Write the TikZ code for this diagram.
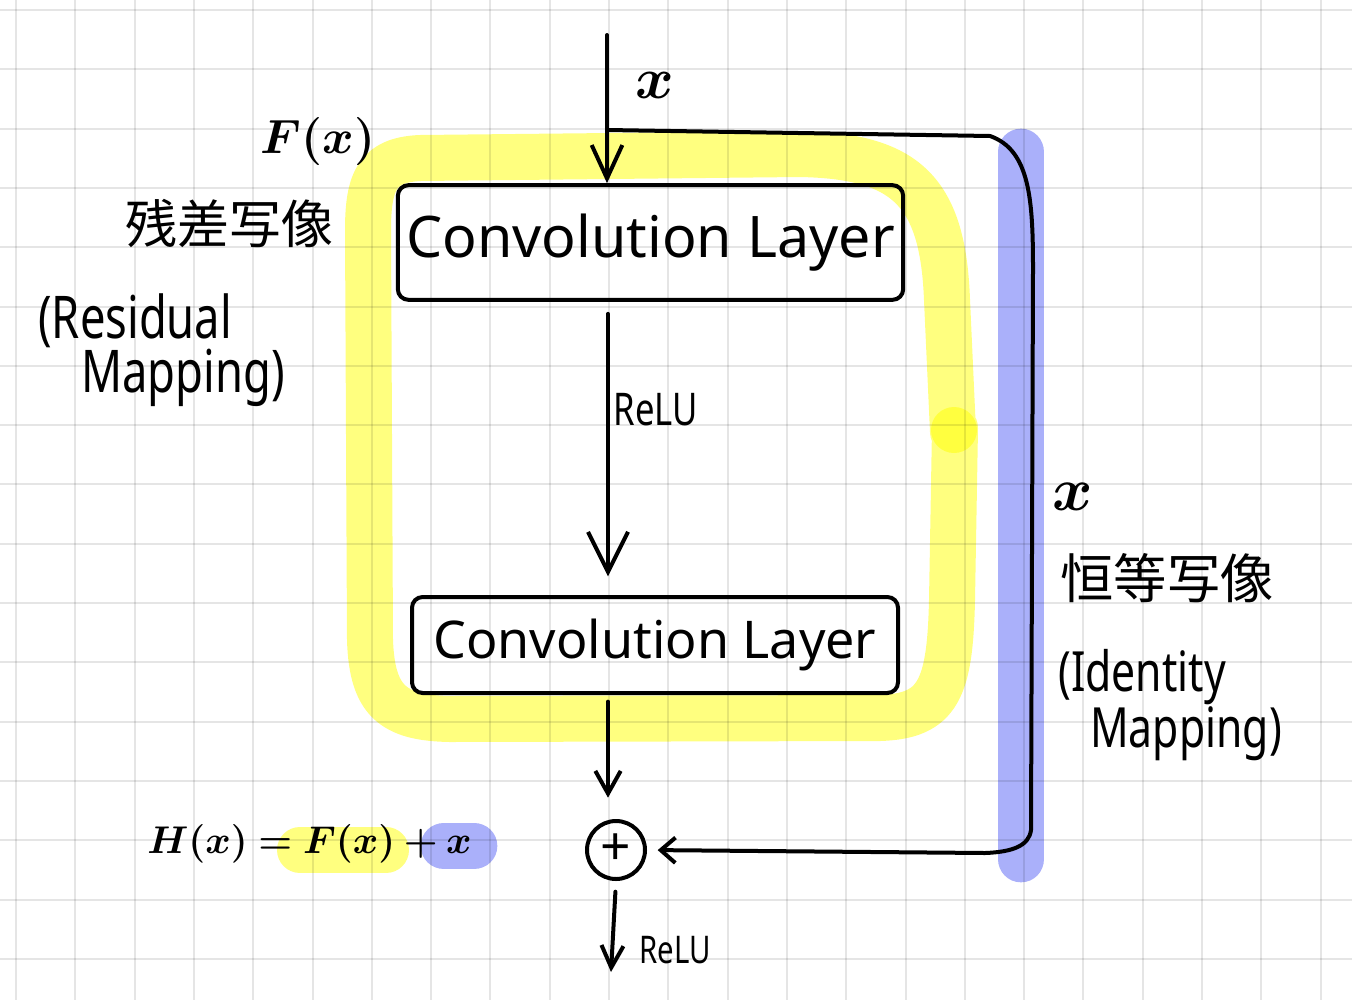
\RequirePackage{fix-cm}
\documentclass[tikz,border=0pt]{standalone}
\usepackage{bm}
\usepackage{fontspec}
\setmainfont{Noto Sans}
\newfontfamily\jpfont{Noto Sans CJK JP}
\usetikzlibrary{arrows.meta}
\definecolor{hlyellow}{RGB}{255,255,0}
\definecolor{hlblue}{RGB}{170,176,250}
\newcommand{\tallbox}[1]{\scalebox{1}[1.3]{#1}}
\begin{document}
\begin{tikzpicture}[x=0.75pt,y=-0.75pt,
  ink/.style={line width=3pt, line cap=round, line join=round},
  box/.style={draw, line width=3pt, rounded corners=8pt, inner sep=0pt},
  lbl/.style={inner sep=0pt},
  gridline/.style={draw=black, draw opacity=0.1, line width=1.5pt},
  yhl/.style={draw=hlyellow, draw opacity=0.5, line width=34.5pt, line cap=round, line join=round},
  bhl/.style={draw=hlblue, line width=35pt, line cap=round}]
% canvas
\fill[white] (0,0) rectangle (1352,1000);
\useasboundingbox (0,0) rectangle (1352,1000);
% highlights
\draw[yhl] (953,432) -- (947,300) .. controls (943,190) and (905,156) .. (800,154)
  -- (420,158) .. controls (378,160) and (368,180) .. (368,230)
  -- (370,640) .. controls (372,700) and (392,718) .. (450,719)
  -- (880,718) .. controls (938,716) and (950,690) .. (952,600) -- (955,428);
\fill[hlyellow, opacity=0.5] (954,430) circle (17.25pt);
\draw[bhl] (1021,152) -- (1021,859);
\draw[yhl] (300,850) -- (386,850);
\draw[bhl] (444,846) -- (474,846);
% grid
\foreach \i in {0,...,22} \draw[gridline] ({16+59.3*\i},0) -- ({16+59.3*\i},1000);
\foreach \j in {0,...,16} \draw[gridline] (0,{10+59.3*\j}) -- (1352,{10+59.3*\j});
% nodes
\node[box, minimum width=379pt, minimum height=86pt] (b1) at (650.5,242.5)
  {\fontsize{43}{50}\selectfont Convolution Layer};
\node[box, minimum width=364.5pt, minimum height=72pt] (b2) at (655,645)
  {\fontsize{39}{46}\selectfont Convolution Layer};
\node[circle, draw, line width=3pt, minimum size=43.5pt, inner sep=0pt] (plus) at (616,850)
  {\fontsize{40}{40}\selectfont +};
\coordinate (in) at (607,35);
\coordinate (split) at (607,130);
\coordinate (mid) at (608,500);
\coordinate (out) at (611,972);
% connectors
\draw[ink, -{Straight Barb[length=25pt,width=23pt]}] (in) -- (in |- b1.north);
\draw[ink, -{Straight Barb[length=30pt,width=30pt]}, shorten <=9pt, shorten >=14pt]
  (mid |- b1.south) -- (mid |- b2.north);
\draw[ink, -{Straight Barb[length=17pt,width=19pt]}, shorten <=5pt, shorten >=16pt]
  (mid |- b2.south) -- (mid |- plus.north);
\draw[ink, -{Straight Barb[length=16.5pt,width=16.5pt]}, shorten <=8pt]
  (plus.south) -- (out);
\draw[ink, -{Straight Barb[length=11pt,width=19pt]}, shorten >=8pt]
  (split) -- (990,136) .. controls (1030,150) and (1033,200) .. (1033,270)
  -- (1031,830) .. controls (1029,846) and (1012,852) .. (985,853) -- (plus.east);
% labels
\node[lbl] (lx) at (655,85) {\fontsize{44}{44}\selectfont $\bm{x}$};
\node[lbl] (lF) at (318,141) {\fontsize{36}{36}\selectfont $\bm{F(x)}$};
\node[lbl] (lres) at (229,224) {\jpfont\fontsize{39}{39}\selectfont 残差写像};
\node[lbl, anchor=west] (lres1) at (38,321) {\tallbox{\fontsize{34}{34}\selectfont (Residual}};
\node[lbl, anchor=west] (lres2) at (81,378) {\tallbox{\fontsize{34}{34}\selectfont Mapping)}};
\node[lbl] (lrelu1) at (656,410) {\tallbox{\fontsize{26}{26}\selectfont ReLU}};
\node[lbl] (lrelu2) at (675,950) {\tallbox{\fontsize{22}{22}\selectfont ReLU}};
\node[lbl] (lx2) at (1073,497) {\fontsize{46}{46}\selectfont $\bm{x}$};
\node[lbl] (lid) at (1167,578) {\jpfont\fontsize{40}{40}\selectfont 恒等写像};
\node[lbl, anchor=west] (lid1) at (1058,677) {\tallbox{\fontsize{32}{32}\selectfont (Identity}};
\node[lbl, anchor=west] (lid2) at (1090,734) {\tallbox{\fontsize{32}{32}\selectfont Mapping)}};
\node[lbl, anchor=west] (eq) at (147,844) {\fontsize{29}{29}\selectfont $\bm{H(x)=F(x)+x}$};
\end{tikzpicture}
\end{document}
